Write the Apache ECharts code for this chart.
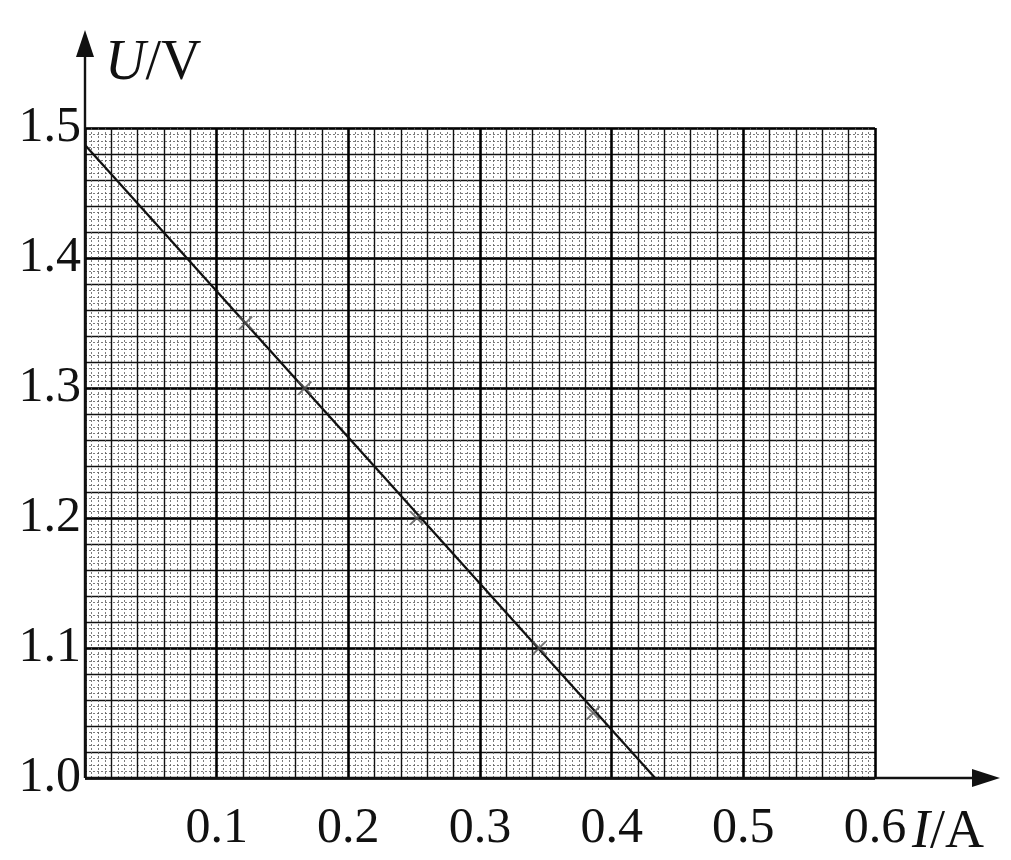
<!DOCTYPE html>
<html>
<head>
<meta charset="utf-8">
<script src="https://cdn.jsdelivr.net/npm/echarts@6/dist/echarts.min.js"></script>
<style>html,body{margin:0;padding:0;background:#fff;}#c{width:1011px;height:860px;}</style>
</head>
<body>
<div id="c"></div>
<script>
// ---- data ----
const measuredI = [0.122, 0.167, 0.252, 0.345, 0.386];
const measuredU = [1.35, 1.30, 1.20, 1.10, 1.05];
const fitI = [0, 0.433];
const fitU = [1.487, 1.0];
const xTickLabels = ['', '0.1', '0.2', '0.3', '0.4', '0.5', '0.6'];
const yTickLabels = ['1.0', '1.1', '1.2', '1.3', '1.4', '1.5'];
const xRange = [0, 0.6];
const yRange = [1.0, 1.5];

const chart = echarts.init(document.getElementById('c'));
const font = '"Liberation Serif","DejaVu Serif",serif';
const levels = [
  {interval: 0.005, color: '#5a5a5a', width: 0.8, type: [2, 2]},
  {interval: 0.02, color: '#111', width: 1.4, type: 'solid'},
  {interval: 0.1, color: '#000', width: 2.5, type: 'solid'}
];
function mkX(l, i) {
  return {
    type: 'value', gridIndex: 0, position: 'bottom', min: xRange[0], max: xRange[1], interval: l.interval,
    axisLine: {show: false}, axisTick: {show: false},
    axisLabel: i === 2 ? {
      show: true, margin: 26, color: '#111', fontFamily: font, fontSize: 50,
      formatter: v => xTickLabels[Math.round(v * 10)] || ''
    } : {show: false},
    splitLine: {show: true, lineStyle: {color: l.color, width: l.width, type: l.type}}
  };
}
function mkY(l, i) {
  return {
    type: 'value', gridIndex: 0, position: 'left', min: yRange[0], max: yRange[1], interval: l.interval,
    axisLine: {show: false}, axisTick: {show: false},
    axisLabel: i === 2 ? {
      show: true, margin: 4, color: '#111', fontFamily: font, fontSize: 50,
      padding: [8, 0, 0, 0],
      formatter: v => yTickLabels[Math.round((v - 1.0) * 10)] || ''
    } : {show: false},
    splitLine: {show: true, lineStyle: {color: l.color, width: l.width, type: l.type}}
  };
}
const crossPath = 'path://M0,0L10,10M10,0L0,10';
chart.setOption({
  animation: false,
  backgroundColor: '#fff',
  grid: {left: 85, top: 128, width: 790, height: 650, containLabel: false},
  xAxis: levels.map(mkX),
  yAxis: levels.map(mkY),
  series: [
    {
      type: 'line', xAxisIndex: 2, yAxisIndex: 2, showSymbol: false, silent: true,
      lineStyle: {color: '#111', width: 2.3},
      data: fitI.map((v, k) => [v, fitU[k]]), z: 5
    },
    {
      type: 'scatter', xAxisIndex: 2, yAxisIndex: 2, symbol: crossPath, symbolSize: 13,
      data: measuredI.map((v, k) => [v, measuredU[k]]),
      itemStyle: {color: 'none', borderColor: '#555', borderWidth: 1.8}, z: 6
    }
  ]
});

// Axis arrows and axis names
const o = chart.convertToPixel({xAxisIndex: 2, yAxisIndex: 2}, [xRange[0], yRange[0]]);
const ox = o[0], oy = o[1];
const topY = 30, rightX = 1000;
chart.setOption({
  graphic: [
    {type: 'line', shape: {x1: ox, y1: oy, x2: ox, y2: topY + 20}, style: {stroke: '#111', lineWidth: 2.4}, z: 10},
    {type: 'polygon', shape: {points: [[ox, topY], [ox - 9, topY + 27], [ox + 9, topY + 27]]}, style: {fill: '#111'}, z: 10},
    {type: 'line', shape: {x1: ox, y1: oy, x2: rightX - 20, y2: oy}, style: {stroke: '#111', lineWidth: 2.4}, z: 10},
    {type: 'polygon', shape: {points: [[rightX, oy], [rightX - 28, oy - 9], [rightX - 28, oy + 9]]}, style: {fill: '#111'}, z: 10},
    {type: 'text', left: ox + 20, top: 36, z: 10,
      style: {text: '{i|U}/V', fontFamily: font, fontSize: 56, fill: '#111',
        rich: {i: {fontStyle: 'italic', fontFamily: font, fontSize: 56, fill: '#111'}}}},
    {type: 'text', left: 912, top: oy + 28, z: 10,
      style: {text: '{i|I}/A', fontFamily: font, fontSize: 54, fill: '#111',
        rich: {i: {fontStyle: 'italic', fontFamily: font, fontSize: 54, fill: '#111'}}}}
  ]
});
</script>
</body>
</html>
